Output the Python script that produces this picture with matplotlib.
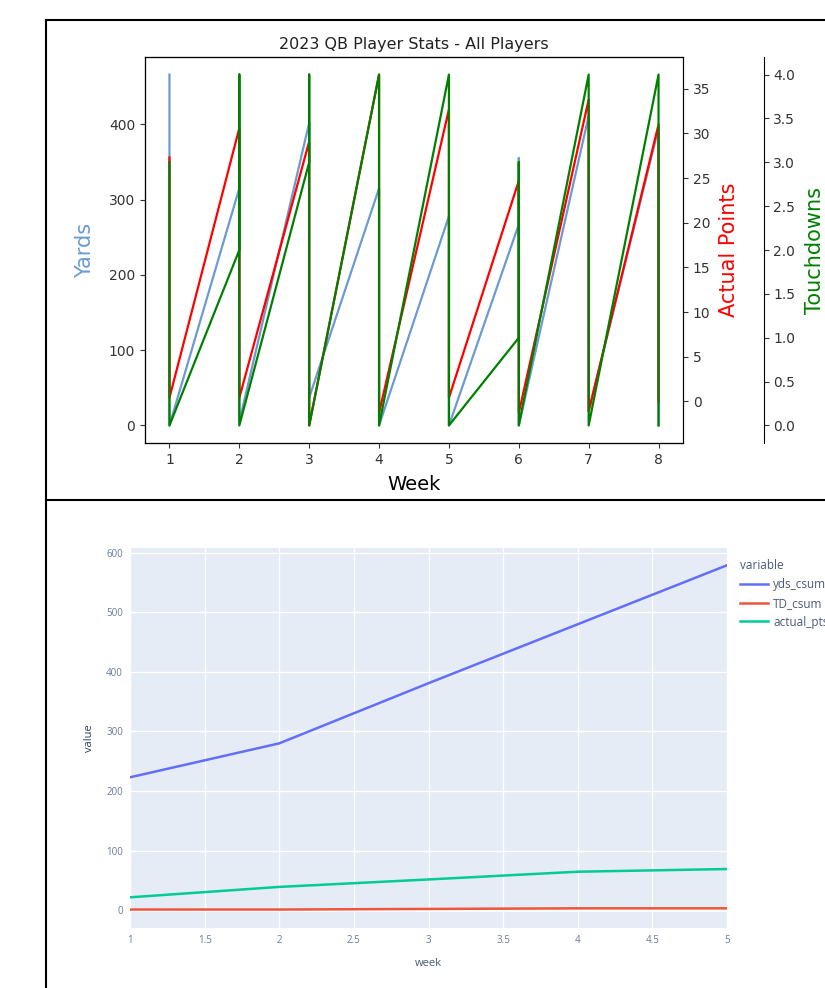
import matplotlib.pyplot as plt
import numpy as np
from matplotlib.lines import Line2D

# weekly rows for all players (three QBs per week)
week = [1, 1, 1, 2, 2, 2, 3, 3, 3, 4, 4, 4, 5, 5, 5, 6, 6, 6, 7, 7, 7, 8, 8, 8]
yards = [466, 180, 0, 315, 180, 5, 402, 250, 37, 315, 200, 0,
         278, 150, 0, 267, 355, 0, 411, 300, 19, 395, 250, 0]
actual_pts = [27.3, 10.0, 0.4, 30.6, 15.0, 0.4, 29.1, 10.0, -2.7, 36.6, 10.0, -1.3,
              32.7, 10.0, 0.4, 24.7, 5.0, -1.3, 33.8, 10.0, -1.1, 31.0, 10.0, 0.0]
touchdowns = [3, 1, 0, 2, 4, 0, 3, 4, 0, 4, 1, 0,
              4, 2, 0, 1, 3, 0, 4, 1, 0, 4, 2, 0]

# cumulative stats for one player
csum_week = [1, 2, 3, 4, 5]
yds_csum = [223, 280, 381, 480, 579]
TD_csum = [1, 1, 2, 3, 3]
actual_pts_csum = [21.5, 39, 51.5, 64.5, 69]

W, H = 825, 988
fig = plt.figure(figsize=(W / 100, H / 100), dpi=100)

def box(l, t, r, b):
    return [l / W, 1 - b / H, (r - l) / W, (b - t) / H]

# ---- top chart: matplotlib with three y axes
yards_color = '#6b9bd0'
ax1 = fig.add_axes(box(145, 57, 683, 443))
ax1.plot(week, yards, color=yards_color, lw=1.6)
ax1.set_xlabel('Week', fontsize=14, labelpad=6)
ax1.set_ylabel('Yards', color=yards_color, fontsize=15, labelpad=10)
ax1.set_title('2023 QB Player Stats - All Players', fontsize=11.5, color='#222222')
ax1.set_xticks(range(1, 9))
for s in ax1.spines.values():
    s.set_color('#444444')

ax2 = ax1.twinx()
ax2.plot(week, actual_pts, color='red', lw=1.6)
ax2.set_ylabel('Actual Points', color='red', fontsize=15, labelpad=6)

ax3 = ax1.twinx()
ax3.spines['right'].set_position(('axes', 1.15))
ax3.plot(week, touchdowns, color='green', lw=1.6)
ax3.set_ylabel('Touchdowns', color='green', fontsize=15, labelpad=7)
for a in (ax1, ax2, ax3):
    a.tick_params(labelsize=10, colors='#333333')

# ---- bottom chart: plotly-like styling
ax = fig.add_axes(box(130, 548, 727, 928))
ax.set_facecolor('#E5ECF6')
for s in ax.spines.values():
    s.set_visible(False)
ax.plot(csum_week, yds_csum, color='#636efa', lw=1.8, label='yds_csum')
ax.plot(csum_week, TD_csum, color='#EF553B', lw=1.8, label='TD_csum')
ax.plot(csum_week, actual_pts_csum, color='#00cc96', lw=1.8, label='actual_pts')
ax.set_xlim(1, 5)
ax.set_ylim(-30, 608)
ax.set_xticks(np.arange(1, 5.01, 0.5))
ax.set_xticklabels(['1', '1.5', '2', '2.5', '3', '3.5', '4', '4.5', '5'])
ax.set_yticks(range(0, 601, 100))
ax.grid(color='white', lw=1)
ax.axhline(0, color='white', lw=2, zorder=0.9)
ax.set_axisbelow(True)
ax.tick_params(length=0, labelsize=7, colors='#6a7a94', pad=5)
for lab in ax.get_xticklabels() + ax.get_yticklabels():
    lab.set_family('Open Sans')
ax.set_xlabel('week', fontsize=8, color='#4a5a78', family='Open Sans', labelpad=9)
ax.set_ylabel('value', fontsize=8, color='#2a3f5f', family='Open Sans', labelpad=8)
leg = ax.legend(loc='upper left', bbox_to_anchor=(1.01, 0.99), frameon=False,
                title='variable', alignment='left', handlelength=2.4,
                handletextpad=0.4, labelspacing=0.5, borderaxespad=0.2,
                prop={'family': 'Open Sans', 'size': 8.5})
leg.get_title().set_fontsize(8.5)
leg.get_title().set_color('#4a5a78')
leg.get_title().set_family('Open Sans')
for t in leg.get_texts():
    t.set_color('#4a5a78')

# ---- document frame lines
fig.add_artist(Line2D([46 / W, 46 / W], [0, 1 - 20 / H], color='black', lw=1.5))
fig.add_artist(Line2D([46 / W, 1], [1 - 20 / H, 1 - 20 / H], color='black', lw=1.5))
fig.add_artist(Line2D([46 / W, 1], [1 - 500 / H, 1 - 500 / H], color='black', lw=1.5))

fig.savefig('out.png', dpi=100)
